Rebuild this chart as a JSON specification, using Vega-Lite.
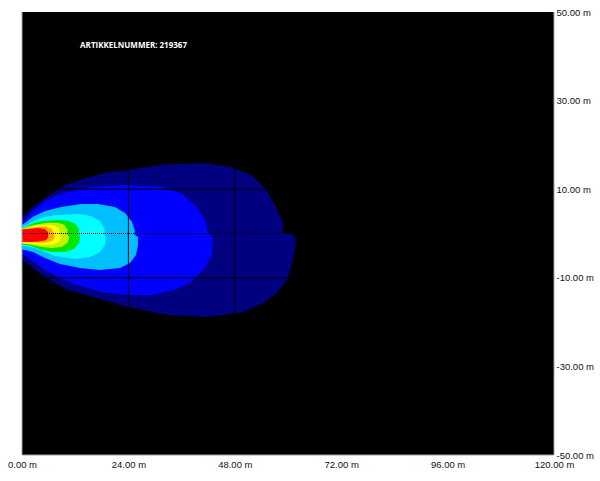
{
  "$schema": "https://vega.github.io/schema/vega-lite/v6.json",
  "width": 532,
  "height": 443,
  "autosize": {"type": "none"},
  "padding": {"left": 22, "top": 12, "right": 46, "bottom": 26},
  "background": "#ffffff",
  "config": {"view": {"fill": "#000000", "stroke": null}},
  "data": {"values": [
    {"r":"n","i":0,"x":0,"y":3.5},{"r":"n","i":1,"x":1.0,"y":4.6},{"r":"n","i":2,"x":2.0,"y":5.7},{"r":"n","i":3,"x":3.6,"y":6.8},{"r":"n","i":4,"x":6.5,"y":8.9},{"r":"n","i":5,"x":9.7,"y":10.9},{"r":"n","i":6,"x":14.2,"y":12.5},{"r":"n","i":7,"x":18.7,"y":13.7},{"r":"n","i":8,"x":23.9,"y":14.3},{"r":"n","i":9,"x":31.4,"y":15.5},{"r":"n","i":10,"x":40.4,"y":15.9},{"r":"n","i":11,"x":47.1,"y":15.0},{"r":"n","i":12,"x":51.7,"y":13.2},{"r":"n","i":13,"x":54.8,"y":10.3},{"r":"n","i":14,"x":57.1,"y":6.4},{"r":"n","i":15,"x":58.9,"y":2.6},{"r":"n","i":16,"x":58.9,"y":0.1},{"r":"n","i":17,"x":61.4,"y":-0.3},{"r":"n","i":18,"x":61.8,"y":-1.9},{"r":"n","i":19,"x":61.1,"y":-6.0},{"r":"n","i":20,"x":59.8,"y":-10.5},{"r":"n","i":21,"x":57.5,"y":-13.4},{"r":"n","i":22,"x":54.4,"y":-15.7},{"r":"n","i":23,"x":49.9,"y":-17.7},{"r":"n","i":24,"x":45.3,"y":-18.4},{"r":"n","i":25,"x":41.3,"y":-18.8},{"r":"n","i":26,"x":32.9,"y":-18.4},{"r":"n","i":27,"x":23.9,"y":-16.6},{"r":"n","i":28,"x":17.6,"y":-14.8},{"r":"n","i":29,"x":10.4,"y":-12.8},{"r":"n","i":30,"x":6.3,"y":-10.5},{"r":"n","i":31,"x":3.6,"y":-8.7},{"r":"n","i":32,"x":1.8,"y":-7.3},{"r":"n","i":33,"x":0.9,"y":-6.6},{"r":"n","i":34,"x":0,"y":-6.0},
    {"r":"b","i":0,"x":0,"y":2.6},{"r":"b","i":1,"x":1.35,"y":3.9},{"r":"b","i":2,"x":2.93,"y":5.53},{"r":"b","i":3,"x":5.19,"y":7.34},{"r":"b","i":4,"x":8.57,"y":8.92},{"r":"b","i":5,"x":14.21,"y":10.27},{"r":"b","i":6,"x":18.72,"y":10.72},{"r":"b","i":7,"x":23.91,"y":10.95},{"r":"b","i":8,"x":31.35,"y":10.5},{"r":"b","i":9,"x":35.86,"y":9.14},{"r":"b","i":10,"x":39.03,"y":6.43},{"r":"b","i":11,"x":41.28,"y":3.05},{"r":"b","i":12,"x":41.96,"y":0.11},{"r":"b","i":13,"x":42.86,"y":-0.56},{"r":"b","i":14,"x":43.09,"y":-2.14},{"r":"b","i":15,"x":42.86,"y":-4.85},{"r":"b","i":16,"x":41.28,"y":-7.79},{"r":"b","i":17,"x":38.12,"y":-10.95},{"r":"b","i":18,"x":34.51,"y":-12.75},{"r":"b","i":19,"x":29.1,"y":-13.88},{"r":"b","i":20,"x":23.91,"y":-13.88},{"r":"b","i":21,"x":17.82,"y":-13.21},{"r":"b","i":22,"x":10.38,"y":-10.95},{"r":"b","i":23,"x":5.19,"y":-8.24},{"r":"b","i":24,"x":2.03,"y":-5.9},{"r":"b","i":25,"x":0.68,"y":-5.0},{"r":"b","i":26,"x":0,"y":-4.8},
    {"r":"lb","i":0,"x":0,"y":1.9},{"r":"lb","i":1,"x":1.13,"y":2.7},{"r":"lb","i":2,"x":2.48,"y":3.8},{"r":"lb","i":3,"x":5.19,"y":5.08},{"r":"lb","i":4,"x":8.8,"y":5.98},{"r":"lb","i":5,"x":13.31,"y":6.66},{"r":"lb","i":6,"x":17.14,"y":6.66},{"r":"lb","i":7,"x":20.98,"y":5.98},{"r":"lb","i":8,"x":23.23,"y":4.63},{"r":"lb","i":9,"x":24.82,"y":2.6},{"r":"lb","i":10,"x":25.49,"y":0.56},{"r":"lb","i":11,"x":25.27,"y":-0.11},{"r":"lb","i":12,"x":26.17,"y":-0.79},{"r":"lb","i":13,"x":26.17,"y":-2.6},{"r":"lb","i":14,"x":25.72,"y":-4.85},{"r":"lb","i":15,"x":24.36,"y":-6.66},{"r":"lb","i":16,"x":22.11,"y":-7.79},{"r":"lb","i":17,"x":17.6,"y":-8.24},{"r":"lb","i":18,"x":13.08,"y":-7.79},{"r":"lb","i":19,"x":8.57,"y":-6.88},{"r":"lb","i":20,"x":5.19,"y":-5.53},{"r":"lb","i":21,"x":2.48,"y":-4.2},{"r":"lb","i":22,"x":0.9,"y":-3.8},{"r":"lb","i":23,"x":0,"y":-3.6},
    {"r":"c","i":0,"x":0,"y":1.5},{"r":"c","i":1,"x":0.68,"y":1.7},{"r":"c","i":2,"x":2.03,"y":2.5},{"r":"c","i":3,"x":4.29,"y":3.5},{"r":"c","i":4,"x":7.44,"y":4.18},{"r":"c","i":5,"x":12.63,"y":4.4},{"r":"c","i":6,"x":15.56,"y":3.95},{"r":"c","i":7,"x":17.6,"y":2.82},{"r":"c","i":8,"x":18.72,"y":1.02},{"r":"c","i":9,"x":18.5,"y":-0.11},{"r":"c","i":10,"x":18.95,"y":-0.79},{"r":"c","i":11,"x":18.72,"y":-2.6},{"r":"c","i":12,"x":17.6,"y":-4.18},{"r":"c","i":13,"x":15.34,"y":-5.3},{"r":"c","i":14,"x":11.96,"y":-5.76},{"r":"c","i":15,"x":7.44,"y":-5.08},{"r":"c","i":16,"x":4.06,"y":-3.72},{"r":"c","i":17,"x":1.8,"y":-3.0},{"r":"c","i":18,"x":0,"y":-2.8},
    {"r":"g","i":0,"x":0,"y":1.2},{"r":"g","i":1,"x":0.9,"y":1.6},{"r":"g","i":2,"x":2.48,"y":2.3},{"r":"g","i":3,"x":4.74,"y":2.8},{"r":"g","i":4,"x":8.12,"y":3.05},{"r":"g","i":5,"x":10.38,"y":2.9},{"r":"g","i":6,"x":11.96,"y":2.2},{"r":"g","i":7,"x":12.86,"y":1.0},{"r":"g","i":8,"x":12.7,"y":-0.1},{"r":"g","i":9,"x":13.1,"y":-0.6},{"r":"g","i":10,"x":12.9,"y":-2.1},{"r":"g","i":11,"x":11.7,"y":-3.5},{"r":"g","i":12,"x":9.7,"y":-4.2},{"r":"g","i":13,"x":6.8,"y":-4.2},{"r":"g","i":14,"x":4.1,"y":-3.6},{"r":"g","i":15,"x":1.8,"y":-2.7},{"r":"g","i":16,"x":0,"y":-2.5},
    {"r":"yg","i":0,"x":0,"y":1.1},{"r":"yg","i":1,"x":1.13,"y":1.5},{"r":"yg","i":2,"x":2.93,"y":2.0},{"r":"yg","i":3,"x":5.64,"y":2.4},{"r":"yg","i":4,"x":8.1,"y":2.45},{"r":"yg","i":5,"x":9.6,"y":1.9},{"r":"yg","i":6,"x":10.3,"y":0.8},{"r":"yg","i":7,"x":10.1,"y":-0.1},{"r":"yg","i":8,"x":10.7,"y":-0.8},{"r":"yg","i":9,"x":10.3,"y":-2.1},{"r":"yg","i":10,"x":9.0,"y":-3.0},{"r":"yg","i":11,"x":6.8,"y":-3.3},{"r":"yg","i":12,"x":4.1,"y":-3.0},{"r":"yg","i":13,"x":1.8,"y":-2.5},{"r":"yg","i":14,"x":0,"y":-2.3},
    {"r":"y","i":0,"x":0,"y":1.0},{"r":"y","i":1,"x":1.35,"y":1.3},{"r":"y","i":2,"x":3.2,"y":1.75},{"r":"y","i":3,"x":5.6,"y":2.0},{"r":"y","i":4,"x":7.4,"y":1.8},{"r":"y","i":5,"x":8.4,"y":1.0},{"r":"y","i":6,"x":8.3,"y":-0.1},{"r":"y","i":7,"x":8.8,"y":-0.8},{"r":"y","i":8,"x":8.4,"y":-1.8},{"r":"y","i":9,"x":7.0,"y":-2.5},{"r":"y","i":10,"x":4.5,"y":-2.6},{"r":"y","i":11,"x":2.3,"y":-2.3},{"r":"y","i":12,"x":0,"y":-2.2},
    {"r":"o","i":0,"x":0,"y":1.0},{"r":"o","i":1,"x":1.35,"y":1.2},{"r":"o","i":2,"x":3.16,"y":1.45},{"r":"o","i":3,"x":5.4,"y":1.6},{"r":"o","i":4,"x":6.7,"y":1.1},{"r":"o","i":5,"x":7.2,"y":0.0},{"r":"o","i":6,"x":7.4,"y":-0.8},{"r":"o","i":7,"x":6.9,"y":-1.6},{"r":"o","i":8,"x":5.2,"y":-2.1},{"r":"o","i":9,"x":2.7,"y":-2.0},{"r":"o","i":10,"x":0,"y":-2.0},
    {"r":"rd","i":0,"x":0,"y":0.9},{"r":"rd","i":1,"x":1.8,"y":1.1},{"r":"rd","i":2,"x":3.6,"y":1.24},{"r":"rd","i":3,"x":5.2,"y":1.0},{"r":"rd","i":4,"x":5.9,"y":0.2},{"r":"rd","i":5,"x":5.9,"y":-0.9},{"r":"rd","i":6,"x":5.4,"y":-1.5},{"r":"rd","i":7,"x":3.8,"y":-1.8},{"r":"rd","i":8,"x":2.0,"y":-1.9},{"r":"rd","i":9,"x":0,"y":-1.85}
  ]},
  "layer": [
    {
      "encoding": {
        "x": {"field": "x", "type": "quantitative", "scale": {"domain": [0, 120], "nice": false, "zero": false},
          "axis": {"values": [0, 24, 48, 72, 96, 120], "title": null, "domain": false, "ticks": false, "grid": false,
            "labelExpr": "format(datum.value, '.2f') + ' m'",
            "labelFont": "Liberation Sans", "labelFontSize": 9.5, "labelColor": "#111111", "labelPadding": 4,
            "labelBaseline": "top", "labelFlush": false, "labelOverlap": false, "labelBound": false}},
        "y": {"field": "y", "type": "quantitative", "scale": {"domain": [-50, 50], "nice": false, "zero": false},
          "axis": {"orient": "right", "values": [50, 30, 10, -10, -30, -50], "title": null, "domain": false, "ticks": false, "grid": false,
            "labelExpr": "(datum.value < 0 ? '-' : '') + format(abs(datum.value), '.2f') + ' m'",
            "labelFont": "Liberation Sans", "labelFontSize": 9.5, "labelColor": "#111111", "labelPadding": 2,
            "labelAlign": "left", "labelBaseline": "middle", "labelFlush": false, "labelOverlap": false, "labelBound": false}},
        "order": {"field": "i", "type": "quantitative"}
      },
      "layer": [
        {"transform": [{"filter": "datum.r === 'n'"}], "mark": {"type": "line", "filled": true, "color": "#000080", "strokeWidth": 0}},
        {"transform": [{"filter": "datum.r === 'b'"}], "mark": {"type": "line", "filled": true, "color": "#0000ff", "strokeWidth": 0}},
        {"transform": [{"filter": "datum.r === 'lb'"}], "mark": {"type": "line", "filled": true, "color": "#00bfff", "strokeWidth": 0}},
        {"transform": [{"filter": "datum.r === 'c'"}], "mark": {"type": "line", "filled": true, "color": "#00ffff", "strokeWidth": 0}},
        {"transform": [{"filter": "datum.r === 'g'"}], "mark": {"type": "line", "filled": true, "color": "#00e600", "strokeWidth": 0}},
        {"transform": [{"filter": "datum.r === 'yg'"}], "mark": {"type": "line", "filled": true, "color": "#c4f000", "strokeWidth": 0}},
        {"transform": [{"filter": "datum.r === 'y'"}], "mark": {"type": "line", "filled": true, "color": "#ffff00", "strokeWidth": 0}},
        {"transform": [{"filter": "datum.r === 'o'"}], "mark": {"type": "line", "filled": true, "color": "#ffaa00", "strokeWidth": 0}},
        {"transform": [{"filter": "datum.r === 'rd'"}], "mark": {"type": "line", "filled": true, "color": "#ff0000", "strokeWidth": 0}}
      ]
    },
    {
      "data": {"values": [{"gx": 24}, {"gx": 48}, {"gx": 72}, {"gx": 96}]},
      "mark": {"type": "rule", "color": "#000000", "strokeWidth": 1},
      "encoding": {"x": {"field": "gx", "type": "quantitative"}}
    },
    {
      "data": {"values": [{"gy": 30}, {"gy": 10}, {"gy": -10}, {"gy": -30}]},
      "mark": {"type": "rule", "color": "#000000", "strokeWidth": 1},
      "encoding": {"y": {"field": "gy", "type": "quantitative"}}
    },
    {
      "data": {"values": [{"line": "centre"}]},
      "mark": {"type": "rule", "color": "#000000", "strokeWidth": 1, "strokeDash": [1, 1]},
      "encoding": {"y": {"datum": 0, "type": "quantitative"}}
    },
    {
      "data": {"values": [{"label": "ARTIKKELNUMMER: 219367"}]},
      "mark": {"type": "text", "align": "left", "baseline": "middle", "font": "Open Sans", "fontWeight": "bold", "fontSize": 8, "color": "#ffffff"},
      "encoding": {
        "x": {"datum": 13.1, "type": "quantitative"},
        "y": {"datum": 42.3, "type": "quantitative"},
        "text": {"field": "label"}
      }
    },
    {
      "data": {"values": [{"edge": "left"}]},
      "mark": {"type": "rule", "color": "#a0a0a0", "strokeWidth": 1},
      "encoding": {"x": {"datum": 0, "type": "quantitative"}}
    },
    {
      "data": {"values": [{"edge": "right"}]},
      "mark": {"type": "rule", "color": "#a0a0a0", "strokeWidth": 1},
      "encoding": {"x": {"datum": 120, "type": "quantitative"}}
    },
    {
      "data": {"values": [{"edge": "bottom"}]},
      "mark": {"type": "rule", "color": "#a0a0a0", "strokeWidth": 1},
      "encoding": {"y": {"datum": -50, "type": "quantitative"}}
    }
  ]
}
